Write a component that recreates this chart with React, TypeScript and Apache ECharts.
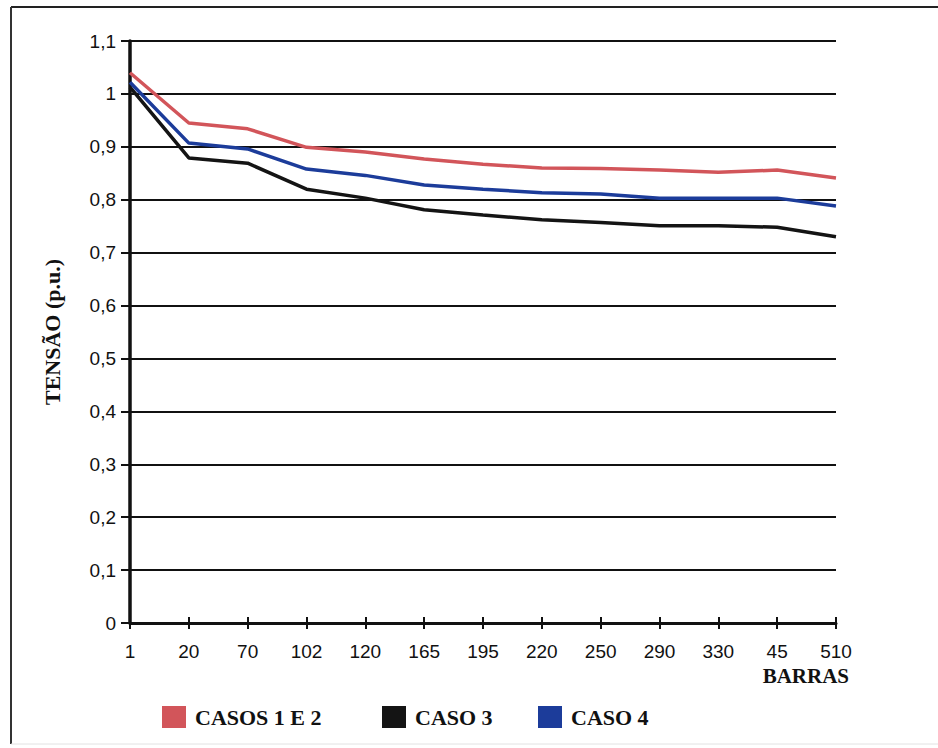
import React, { useEffect, useRef } from "react";
import * as echarts from "echarts";

const categories = ["1", "20", "70", "102", "120", "165", "195", "220", "250", "290", "330", "45", "510"];
const casos12 = [1.04, 0.945, 0.934, 0.899, 0.89, 0.877, 0.867, 0.86, 0.859, 0.856, 0.852, 0.856, 0.841];
const caso3 = [1.013, 0.879, 0.869, 0.82, 0.803, 0.781, 0.771, 0.762, 0.757, 0.751, 0.751, 0.748, 0.73];
const caso4 = [1.022, 0.907, 0.896, 0.858, 0.846, 0.828, 0.82, 0.813, 0.811, 0.803, 0.803, 0.803, 0.788];
const seriesNames = ["CASOS 1 E 2", "CASO 3", "CASO 4"];
const colors = ["#d2555a", "#141414", "#1c3c9a"];

const serif = "'Liberation Serif', 'Times New Roman', serif";
const sans = "'Liberation Sans', Arial, sans-serif";

export default function App() {
  const ref = useRef<HTMLDivElement>(null);
  useEffect(() => {
    document.body.style.margin = "0";
    const chart = echarts.init(ref.current!, null, { renderer: "svg" });
    const legendPos = [157, 377, 533];
    chart.setOption({
      animation: false,
      backgroundColor: "#ffffff",
      grid: { left: 130, right: 102, top: 41, bottom: 125, containLabel: false },
      legend: seriesNames.map((n, i) => ({
        data: [{ name: n, icon: "rect" }],
        left: legendPos[i],
        top: 701,
        itemWidth: 24,
        itemHeight: 22,
        textStyle: { fontFamily: serif, fontWeight: "bold", fontSize: 22, color: "#111", padding: [0, 0, 0, 4] },
      })),
      xAxis: [
        {
          type: "category",
          data: categories,
          boundaryGap: false,
          axisLine: { lineStyle: { color: "#111", width: 3 } },
          axisTick: { show: true, length: 6, lineStyle: { color: "#111", width: 2 }, alignWithLabel: true },
          axisLabel: { margin: 19, fontFamily: sans, fontSize: 19, color: "#111" },
          splitLine: { show: false },
        },
        {
          type: "category",
          data: categories,
          boundaryGap: false,
          position: "bottom",
          axisLine: { show: false },
          axisTick: { show: true, inside: true, length: 6, lineStyle: { color: "#111", width: 2 } },
          axisLabel: { show: false },
          splitLine: { show: false },
        },
      ],
      yAxis: {
        type: "value",
        min: 0,
        max: 1.1,
        interval: 0.1,
        name: "TENSÃO (p.u.)",
        nameLocation: "middle",
        nameGap: 67,
        nameRotate: 90,
        nameTextStyle: { fontFamily: serif, fontWeight: "bold", fontSize: 22, color: "#111" },
        axisLine: { show: true, lineStyle: { color: "#111", width: 3.5 } },
        axisTick: { show: true, length: 9, lineStyle: { color: "#111", width: 2 } },
        axisLabel: {
          margin: 14,
          fontFamily: sans,
          fontSize: 19,
          color: "#111",
          formatter: (v: number) => String(+v.toFixed(1)).replace(".", ","),
        },
        splitLine: { show: true, lineStyle: { color: "#111", width: 2 } },
      },
      series: [casos12, caso3, caso4].map((d, i) => ({
        name: seriesNames[i],
        type: "line",
        data: d,
        xAxisIndex: 0,
        symbol: "none",
        lineStyle: { color: colors[i], width: 3.5 },
        itemStyle: { color: colors[i] },
        z: 3 + i,
      })),
      graphic: [
        { type: "line", shape: { x1: 11, y1: 7, x2: 938, y2: 7 }, style: { stroke: "#222", lineWidth: 2 } },
        { type: "line", shape: { x1: 11, y1: 7, x2: 11, y2: 744 }, style: { stroke: "#333", lineWidth: 2 } },
        { type: "line", shape: { x1: 11, y1: 744, x2: 938, y2: 744 }, style: { stroke: "#e2e2e2", lineWidth: 1 } },
        {
          type: "text",
          x: 849,
          y: 665,
          style: { text: "BARRAS", font: `bold 21px ${serif}`, fill: "#111", align: "right", verticalAlign: "top" },
        },
      ],
    });
    return () => chart.dispose();
  }, []);
  return <div ref={ref} style={{ width: 938, height: 748 }} />;
}
